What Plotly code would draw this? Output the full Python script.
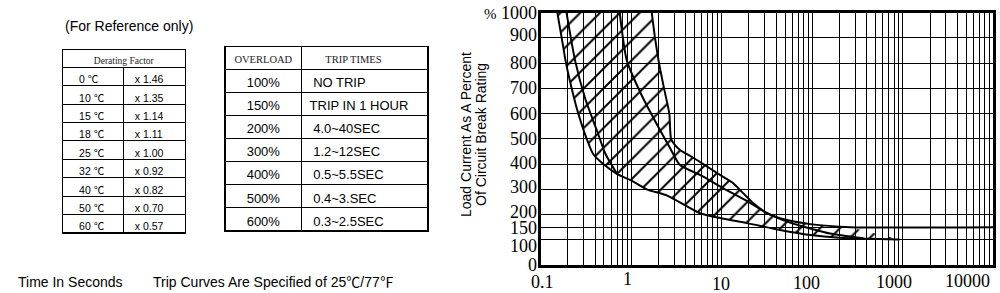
import math
import plotly.graph_objects as go

W, H = 1000, 293

# ---------------- data ----------------
derate_temp = ["0 ℃", "10 ℃", "15 ℃", "18 ℃", "25 ℃", "32 ℃", "40 ℃", "50 ℃", "60 ℃"]
derate_factor = ["x 1.46", "x 1.35", "x 1.14", "x 1.11", "x 1.00", "x 0.92", "x 0.82", "x 0.70", "x 0.57"]
overload = ["100%", "150%", "200%", "300%", "400%", "500%", "600%"]
trip_times = ["NO TRIP", "TRIP IN 1 HOUR", "4.0~40SEC", "1.2~12SEC", "0.5~5.5SEC", "0.4~3.SEC", "0.3~2.5SEC"]

# outer (minimum) curve
L_t = [0.1526, 0.1706, 0.1904, 0.2200, 0.2603, 0.3222, 0.38, 0.4916, 0.70, 1.0, 1.484, 2.5, 5.76, 9.57, 19, 44, 95, 200, 400, 920]
L_pct = [1000, 900, 800, 700, 600, 500, 440, 400, 360, 335, 300, 275, 205, 186, 166, 139, 119, 108, 104, 101]
# inner curve near the minimum curve
M_t = [0.1928, 0.2393, 0.31, 0.4157, 0.52, 0.70]
M_pct = [1000, 812, 660, 535, 440, 360]
# middle curve
N_t = [0.746, 0.892, 1.3, 2.08, 2.684, 3.46, 5.76, 10.3, 18.9, 30, 56.9, 94.6, 157, 367]
N_pct = [1000, 812, 674, 535, 464, 396, 357, 305, 254, 210, 168, 145, 125, 106]
# maximum curve
R_t = [1.685, 1.832, 2.028, 2.304, 2.636, 2.754, 3.05, 3.46, 4.5, 6.26, 8.81, 13.3, 17.2, 22.2, 31.6, 52.7, 94.6, 262, 10000]
R_pct = [1000, 900, 800, 700, 600, 500, 475, 456, 432, 400, 365, 325, 285, 246, 206, 178, 162, 150, 150]

y_ticks = [0, 100, 150, 200, 300, 400, 500, 600, 700, 800, 900, 1000]
y_ticktext = ["0", "100", "150", "200", "300", "400", "500", "600", "700", "800", "900",
              "<span style='font-size:15px'>%</span> 1000"]
y_label_shift = [0, -6, -1, 3, 2, 1.5, 0, 0, 0, 0, 3, 0]
x_labels = [0.1, 1, 10, 100, 1000, 10000]
x_label_text = ["0.1", "1", "10", "100", "1000", "10000"]
x_shift = [2, -3.5, -1, -5.5, -8.7, -25.7]
x_lab_y = [282, 279, 283.7, 282.5, 282, 281]

# ---------------- helpers ----------------
def fx(p):
    return p / W

def fy(p):
    return 1 - p / H

NB = "\u00a0"
SANS = "Liberation Sans, Noto Sans CJK TC, Arial, sans-serif"
SERIF = "Liberation Serif, Times New Roman, serif"

fig = go.Figure()

# hatched band between minimum and maximum curves
poly_x = L_t + R_t[:-1][::-1]
poly_y = L_pct + R_pct[:-1][::-1]
fig.add_trace(go.Scatter(
    x=poly_x, y=poly_y, mode="lines", fill="toself",
    line=dict(width=0, color="rgba(0,0,0,0)"),
    fillcolor="rgba(0,0,0,0)",
    fillpattern=dict(shape="/", size=14, solidity=0.14, fgcolor="black",
                     bgcolor="rgba(0,0,0,0)", fillmode="replace"),
    hoverinfo="skip", showlegend=False,
))

for tx, ty in [(L_t, L_pct), (M_t, M_pct), (N_t, N_pct), (R_t, R_pct)]:
    fig.add_trace(go.Scatter(
        x=tx, y=ty, mode="lines",
        line=dict(color="black", width=2, shape="spline", smoothing=0.6),
        hoverinfo="skip", showlegend=False,
    ))

# ---------------- tables ----------------
LINE = dict(color="black", width=1.2)
temp_cells = [NB * 3 + t for t in derate_temp]
fact_cells = [NB + f for f in derate_factor]
fig.add_trace(go.Table(
    domain=dict(x=[fx(62.3), fx(185.3)], y=[fy(72), fy(49.3)]),
    header=dict(values=["Derating Factor"], height=18,
                font=dict(family=SERIF, size=9.5, color="#222"),
                fill_color="white", line=LINE, align="center"),
    cells=dict(values=[[]], height=18),
))
fig.add_trace(go.Table(
    domain=dict(x=[fx(62.3), fx(185.3)], y=[fy(240), fy(67.3)]),
    columnwidth=[1, 1],
    header=dict(values=[temp_cells[0], fact_cells[0]], height=18.4,
                font=dict(family=SANS, size=10.5, color="black"),
                fill_color="white", line=LINE, align="left"),
    cells=dict(values=[temp_cells[1:], fact_cells[1:]],
               height=18.4,
               font=dict(family=SANS, size=10.5, color="black"),
               fill_color="white", line=LINE, align="left"),
))
fig.add_trace(go.Table(
    domain=dict(x=[fx(225), fx(428.3)], y=[fy(240), fy(46.7)]),
    columnwidth=[76.7, 126.7],
    header=dict(values=["OVERLOAD", NB * 6 + "TRIP TIMES"], height=22.6,
                font=dict(family=SERIF, size=10.5, color="#222"),
                fill_color="white", line=LINE, align=["center", "left"]),
    cells=dict(values=[overload, [(NB if t != "TRIP IN 1 HOUR" else "") + t for t in trip_times]],
               height=23.1,
               font=dict(family=SANS, size=13, color="black"),
               fill_color="white", line=LINE, align=["center", "left"]),
))

# ---------------- axes ----------------
minor_vals = [m * 10 ** k for k in range(-1, 4) for m in range(1, 10)] + [10000]
fig.update_xaxes(
    type="log", range=[-1, 4], domain=[fx(540.7), fx(993.3)],
    tickvals=minor_vals, showticklabels=False, ticks="",
    showgrid=True, gridcolor="black", gridwidth=1,
    showline=True, mirror=True, linecolor="black", linewidth=2.5,
    zeroline=False, fixedrange=True, automargin=False,
)
fig.update_yaxes(
    range=[0, 1000], domain=[fy(265), fy(12.7)],
    tickvals=y_ticks, showticklabels=False, ticks="",
    showgrid=True, gridcolor="black", gridwidth=1,
    showline=True, mirror=True, linecolor="black", linewidth=2.5,
    zeroline=False, fixedrange=True, automargin=False,
)

annotations = []
for v, t, s, yy in zip(x_labels, x_label_text, x_shift, x_lab_y):
    annotations.append(dict(x=math.log10(v), xref="x", y=fy(yy), yref="paper", text=t,
                            showarrow=False, xanchor="center", yanchor="middle", xshift=s,
                            font=dict(family=SERIF, size=18, color="black")))
for v, t, s in zip(y_ticks, y_ticktext, y_label_shift):
    annotations.append(dict(x=fx(539), xref="paper", y=v, yref="y", text=t,
                            showarrow=False, xanchor="right", yanchor="middle", yshift=s,
                            font=dict(family=SERIF, size=18, color="black")))

annotations += [
    dict(x=fx(466), y=fy(135), xref="paper", yref="paper", text="Load Current As A Percent",
         textangle=-90, showarrow=False, xanchor="center", yanchor="middle",
         font=dict(family=SANS, size=14, color="black")),
    dict(x=fx(481), y=fy(135), xref="paper", yref="paper", text="Of Circuit Break Rating",
         textangle=-90, showarrow=False, xanchor="center", yanchor="middle",
         font=dict(family=SANS, size=14, color="black")),
    dict(x=fx(63), y=fy(26), xref="paper", yref="paper", text="(For Reference only)",
         showarrow=False, xanchor="left", yanchor="middle",
         font=dict(family=SANS, size=14, color="black")),
    dict(x=fx(16.3), y=fy(281.7), xref="paper", yref="paper", text="Time In Seconds",
         showarrow=False, xanchor="left", yanchor="middle",
         font=dict(family=SANS, size=14, color="black")),
    dict(x=fx(150.7), y=fy(281.7), xref="paper", yref="paper",
         text="Trip Curves Are Specified of 25℃/77℉",
         showarrow=False, xanchor="left", yanchor="middle",
         font=dict(family=SANS, size=14, color="black")),
]

fig.update_layout(
    width=W, height=H, autosize=False,
    margin=dict(l=0, r=0, t=0, b=0, pad=0, autoexpand=False),
    paper_bgcolor="white", plot_bgcolor="white",
    showlegend=False, annotations=annotations,
    font=dict(family=SANS, color="black"),
)

fig.write_html("out.html")
